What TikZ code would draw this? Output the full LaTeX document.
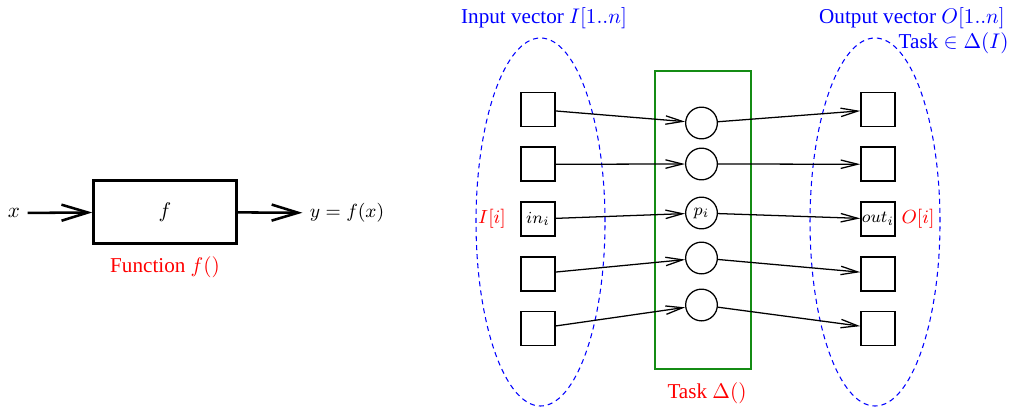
\documentclass[tikz,border=0pt]{standalone}
\usepackage{amsmath}
\usepackage{amssymb}
\usepackage{fontspec}
\setmainfont{Liberation Serif}
\usepackage{tikz}
\usetikzlibrary{arrows.meta,positioning}
\definecolor{taskgreen}{RGB}{20,140,20}
\tikzset{node distance=3cm, auto,
  fbox/.style={draw, very thick, minimum width=67.6pt, minimum height=29.8pt},
  cell/.style={draw, thick, minimum size=16pt, inner sep=0pt, font=\footnotesize},
  proc/.style={draw, semithick, circle, minimum size=15pt, inner sep=0pt, font=\footnotesize},
  bigarr/.style={very thick, -{Straight Barb[length=12.5pt,width=7.6pt]}},
  arr/.style={semithick, -{Straight Barb[length=8pt,width=4pt]}},
  blob/.style={blue, line width=0.5pt, dash pattern=on 2.4pt off 1.9pt}}

\begin{document}
\begin{tikzpicture}[x=0.473pt, y=0.473pt]
                \useasboundingbox (0,0) rectangle (1012,409);
                % function box
                \node (x)  at (14,196)  {$x$};
                \node[fbox] (f) at (165,197) {$f$};
                \node (y)  at (347,196) {\small $y=f(x)$};
                \node[red] (fname) at (165,142) {Function $f()$};
                \draw[bigarr] (x) to (f);
                \draw[bigarr] (f) to (y);
                % vectors
                \draw[blob] (540.5,187) ellipse [x radius=64.5, y radius=184];
                \draw[blob] (875,187) ellipse [x radius=65, y radius=184];
                \draw[taskgreen, line width=0.6pt] (655,338) rectangle (751,40);
                \node[blue] (invec)  at (544,391) {Input vector $I[1..n]$};
                \node[blue] (outvec) at (912,391) {Output vector $O[1..n]$};
                \node[blue, anchor=east] (taskin) at (1016,366) {Task $\in \Delta(I)$};
                \node[red] (taskname) at (707,16) {Task $\Delta()$};
                % inputs
                \node[cell] (in1) at (538,299.5)  {};
                \node[cell] (in2) at (538,244.75) {};
                \node[cell] (in3) at (538,190)    {$in_i$};
                \node[cell] (in4) at (538,135.25) {};
                \node[cell] (in5) at (538,80.5)   {};
                \node[red, font=\small] (ii) at (492,190) {$I[i]$};
                % processes
                \node[proc] (p1) at (701.5,286) {};
                \node[proc] (p2) at (701.5,245) {};
                \node[proc] (p3) at (701.5,196) {$p_i$};
                \node[proc] (p4) at (701.5,151) {};
                \node[proc] (p5) at (701.5,104) {};
                % outputs
                \node[cell] (out1) at (878,299.5)  {};
                \node[cell] (out2) at (878,244.75) {};
                \node[cell] (out3) at (878,190)    {$out_i$};
                \node[cell] (out4) at (878,135.25) {};
                \node[cell] (out5) at (878,80.5)   {};
                \node[red, font=\small] (oi) at (918,190) {$O[i]$};
                \draw[arr] (in1) to (p1);
                \draw[arr] (in2) to (p2);
                \draw[arr] (in3) to (p3);
                \draw[arr] (in4) to (p4);
                \draw[arr] (in5) to (p5);
                \draw[arr] (p1) to (out1);
                \draw[arr] (p2) to (out2);
                \draw[arr] (p3) to (out3);
                \draw[arr] (p4) to (out4);
                \draw[arr] (p5) to (out5);
              \end{tikzpicture}
\end{document}
